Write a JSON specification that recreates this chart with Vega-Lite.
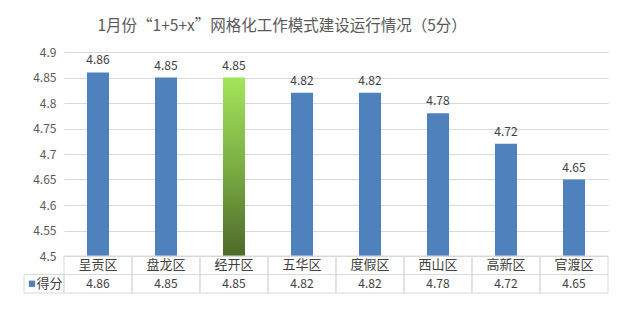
{
  "$schema": "https://vega.github.io/schema/vega-lite/v6.json",
  "padding": {"left": 23, "top": 18, "right": 15, "bottom": 18},
  "background": "white",
  "title": {
    "text": "1月份“1+5+x”网格化工作模式建设运行情况（5分）",
    "anchor": "start",
    "dx": 74,
    "fontSize": 15.5,
    "font": "Noto Sans CJK SC",
    "fontWeight": "normal",
    "color": "#595959",
    "offset": 12
  },
  "datasets": {
    "scores": [
      {"district": "呈贡区", "score": 4.86},
      {"district": "盘龙区", "score": 4.85},
      {"district": "经开区", "score": 4.85},
      {"district": "五华区", "score": 4.82},
      {"district": "度假区", "score": 4.82},
      {"district": "西山区", "score": 4.78},
      {"district": "高新区", "score": 4.72},
      {"district": "官渡区", "score": 4.65}
    ]
  },
  "columns": 2,
  "spacing": 0,
  "bounds": "flush",
  "concat": [
    {
      "width": 40,
      "height": 204,
      "data": {"values": [{}]},
      "mark": "text",
      "encoding": {"text": {"value": ""}}
    },
    {
      "width": 544,
      "height": 204,
      "data": {"name": "scores"},
      "encoding": {
        "x": {"field": "district", "type": "nominal", "sort": null, "scale": {"paddingInner": 0, "paddingOuter": 0}, "axis": null},
        "y": {
          "field": "score",
          "type": "quantitative",
          "scale": {"domain": [4.5, 4.9], "zero": false, "nice": false},
          "axis": {
            "values": [4.5, 4.55, 4.6, 4.65, 4.7, 4.75, 4.8, 4.85, 4.9],
            "format": ".2~f",
            "labelOverlap": false,
            "domain": false,
            "ticks": false,
            "labelPadding": 8,
            "gridColor": "#D9D9D9",
            "gridOpacity": 1,
            "labelColor": "#595959",
            "labelFontSize": 12,
            "labelFont": "Noto Sans CJK SC",
            "title": null
          }
        }
      },
      "layer": [
        {
          "mark": {"type": "bar", "width": {"band": 0.324}},
          "encoding": {
            "y2": {"datum": 4.5},
            "fill": {
              "condition": {
                "test": "datum.district === '经开区'",
                "value": {
                  "gradient": "linear",
                  "x1": 0, "y1": 0, "x2": 0, "y2": 1,
                  "stops": [
                    {"offset": 0, "color": "#A4E45B"},
                    {"offset": 0.5, "color": "#7AAE43"},
                    {"offset": 1, "color": "#4E6A2A"}
                  ]
                }
              },
              "value": "#4F81BD"
            }
          }
        },
        {
          "mark": {"type": "text", "baseline": "bottom", "dy": -5, "fontSize": 12, "color": "#404040", "font": "Noto Sans CJK SC"},
          "encoding": {
            "text": {"field": "score", "type": "quantitative", "format": ".2f"}
          }
        }
      ]
    },
    {
      "width": 40,
      "height": 37,
      "data": {"values": [{"label": "得分"}]},
      "encoding": {
        "y": {"datum": "score", "type": "nominal", "scale": {"domain": ["name", "score"], "paddingInner": 0, "paddingOuter": 0}, "axis": null}
      },
      "layer": [
        {
          "mark": {"type": "rect", "fill": "transparent", "stroke": "#D9D9D9"},
          "encoding": {
            "x": {"datum": "legend", "type": "nominal", "scale": {"domain": ["legend"], "paddingInner": 0, "paddingOuter": 0}, "axis": null}
          }
        },
        {
          "mark": {"type": "point", "shape": "square", "filled": true, "size": 40, "color": "#4F81BD", "opacity": 1},
          "encoding": {
            "x": {"datum": "legend", "type": "nominal", "bandPosition": 0.2}
          }
        },
        {
          "mark": {"type": "text", "fontSize": 13, "color": "#404040", "font": "Noto Sans CJK SC"},
          "encoding": {
            "x": {"datum": "legend", "type": "nominal", "bandPosition": 0.64},
            "text": {"field": "label"}
          }
        }
      ]
    },
    {
      "width": 544,
      "height": 37,
      "data": {"name": "scores"},
      "encoding": {
        "x": {"field": "district", "type": "nominal", "sort": null, "scale": {"paddingInner": 0, "paddingOuter": 0}, "axis": null}
      },
      "layer": [
        {
          "mark": {"type": "rect", "fill": "transparent", "stroke": "#D9D9D9"},
          "encoding": {
            "y": {"datum": "name", "type": "nominal", "scale": {"domain": ["name", "score"], "paddingInner": 0, "paddingOuter": 0}, "axis": null}
          }
        },
        {
          "mark": {"type": "rect", "fill": "transparent", "stroke": "#D9D9D9"},
          "encoding": {
            "y": {"datum": "score", "type": "nominal"}
          }
        },
        {
          "mark": {"type": "text", "fontSize": 13, "color": "#404040", "font": "Noto Sans CJK SC"},
          "encoding": {
            "y": {"datum": "name", "type": "nominal"},
            "text": {"field": "district", "type": "nominal"}
          }
        },
        {
          "mark": {"type": "text", "fontSize": 12, "color": "#404040", "font": "Noto Sans CJK SC"},
          "encoding": {
            "y": {"datum": "score", "type": "nominal"},
            "text": {"field": "score", "type": "quantitative", "format": ".2f"}
          }
        }
      ]
    }
  ],
  "config": {"view": {"stroke": null}, "font": "Noto Sans CJK SC"}
}
